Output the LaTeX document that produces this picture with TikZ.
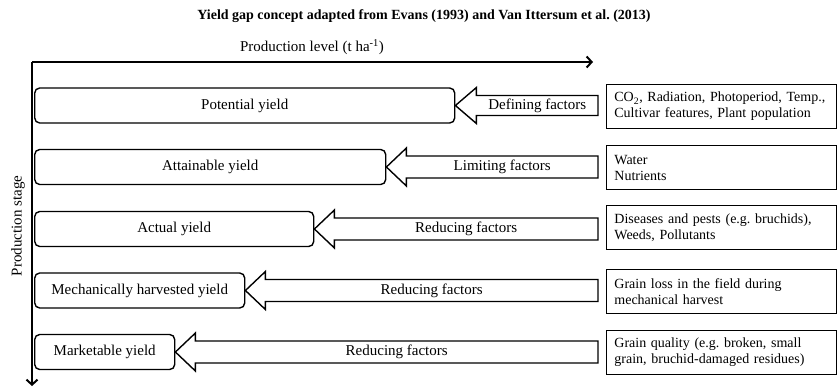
\documentclass[tikz,border=0pt]{standalone}
\usepackage{fontspec}
\setmainfont{Liberation Serif}
\usepackage{tikz}
\usetikzlibrary{arrows.meta, calc}

\begin{document}
\begin{tikzpicture}[x=1pt, y=-1pt, font=\fontsize{15}{17}\selectfont,
  yieldbox/.style={draw, line width=1.4pt, rounded corners=5pt, anchor=west, minimum height=35pt, inner sep=0pt},
  factorbox/.style={draw, line width=0.8pt, anchor=west, minimum width=230pt, minimum height=44pt, text width=214pt, align=left, inner sep=0pt, inner xsep=8pt, font=\fontsize{14}{16}\selectfont},
  blockarrow/.style={draw, line width=1.4pt, line join=miter},
  axis/.style={line width=2.4pt, -{Straight Barb[length=5pt, width=11pt, line width=2pt]}}]
\useasboundingbox (0,0) rectangle (837,389);
\node[font=\fontsize{14}{16}\selectfont\bfseries] (title) at (424,16) {Yield gap concept adapted from Evans (1993) and Van Ittersum et al.\ (2013)};
\node (xlab) at (312,47) {Production level (t ha\textsuperscript{-1})};
\node[rotate=90] (ylab) at (18,226) {Production stage};
\coordinate (origin) at (32,62);
\draw[axis] (origin) -- (593,62);
\draw[axis] (origin) -- (32,386);
% yield levels
\node[yieldbox, minimum width=420pt] (pot) at (34,105.5) {Potential yield};
\node[yieldbox, minimum width=351pt] (att) at (34,167) {Attainable yield};
\node[yieldbox, minimum width=279pt] (act) at (34,229) {Actual yield};
\node[yieldbox, minimum width=210pt] (mech) at (34,290.5) {Mechanically harvested yield};
\node[yieldbox, minimum width=140pt] (mark) at (34,352) {Marketable yield};
% factors
\node[factorbox] (def) at (606,106.5) {CO\textsubscript{2}, Radiation, Photoperiod, Temp.,\\Cultivar features, Plant population};
\node[factorbox] (lim) at (606,167.5) {Water\\Nutrients};
\node[factorbox] (red1) at (606,227.5) {Diseases and pests (e.g.\ bruchids),\\Weeds, Pollutants};
\node[factorbox] (red2) at (606,291.5) {Grain loss in the field during\\mechanical harvest};
\node[factorbox] (red3) at (606,352.5) {Grain quality (e.g.\ broken, small\\grain, bruchid-damaged residues)};
% block arrows
\draw[blockarrow] (pot.east) -- ++(21,-18) -- ++(0,8) -- node[midway, yshift=-10pt] {Defining factors} ($(pot.east -| def.west)+(-8,-10)$) -- ($(pot.east -| def.west)+(-8,10)$) -- ($(pot.east)+(21,10)$) -- ++(0,8) -- cycle;
\draw[blockarrow] (att.east) -- ++(20,-19) -- ++(0,8) -- node[midway, yshift=-11pt] {Limiting factors} ($(att.east -| lim.west)+(-8,-11)$) -- ($(att.east -| lim.west)+(-8,11)$) -- ($(att.east)+(20,11)$) -- ++(0,8) -- cycle;
\draw[blockarrow] (act.east) -- ++(20,-19) -- ++(0,8) -- node[midway, yshift=-11pt] {Reducing factors} ($(act.east -| red1.west)+(-8,-11)$) -- ($(act.east -| red1.west)+(-8,11)$) -- ($(act.east)+(20,11)$) -- ++(0,8) -- cycle;
\draw[blockarrow] (mech.east) -- ++(20,-19) -- ++(0,8) -- node[midway, yshift=-11pt] {Reducing factors} ($(mech.east -| red2.west)+(-8,-11)$) -- ($(mech.east -| red2.west)+(-8,11)$) -- ($(mech.east)+(20,11)$) -- ++(0,8) -- cycle;
\draw[blockarrow] (mark.east) -- ++(20,-19) -- ++(0,8) -- node[midway, yshift=-11pt] {Reducing factors} ($(mark.east -| red3.west)+(-8,-11)$) -- ($(mark.east -| red3.west)+(-8,11)$) -- ($(mark.east)+(20,11)$) -- ++(0,8) -- cycle;
\end{tikzpicture}
\end{document}
